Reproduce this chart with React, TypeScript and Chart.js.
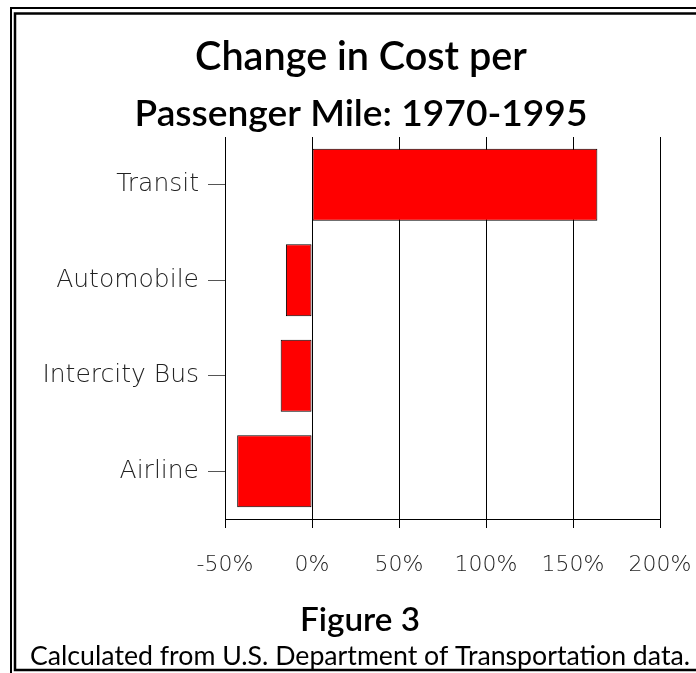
import React, { useEffect, useRef } from "react";
import { Chart, registerables } from "chart.js";

Chart.register(...registerables);

const categories = ["Transit", "Automobile", "Intercity Bus", "Airline"];
const changeValues = [164, -15, -18, -43];
const xTickValues = [-50, 0, 50, 100, 150, 200];
const titleLines = ["Change in Cost per", "Passenger Mile: 1970-1995"];
const figureLabel = "Figure 3";
const sourceNote = "Calculated from U.S. Department of Transportation data.";

const W = 696;
const H = 673;
const LABEL_FONT = "'DejaVu Sans', sans-serif";
const TITLE_FONT = "Lato, sans-serif";

function fitFont(ctx: CanvasRenderingContext2D, text: string, weight: string, family: string, targetW: number) {
  ctx.font = `${weight} 30px ${family}`;
  const w = ctx.measureText(text).width;
  const size = (30 * targetW) / w;
  return `${weight} ${size.toFixed(2)}px ${family}`;
}

const decorPlugin = {
  id: "decor",
  beforeDraw(chart: any) {
    const ctx: CanvasRenderingContext2D = chart.ctx;
    ctx.save();
    ctx.fillStyle = "#ffffff";
    ctx.fillRect(0, 0, W, H);
    ctx.strokeStyle = "#000";
    ctx.lineWidth = 2;
    ctx.beginPath();
    ctx.moveTo(W + 5, 8);
    ctx.lineTo(11, 8);
    ctx.lineTo(11, H + 5);
    ctx.stroke();
    ctx.lineWidth = 2.5;
    ctx.beginPath();
    ctx.moveTo(W + 5, 13.5);
    ctx.lineTo(15, 13.5);
    ctx.lineTo(15, 670);
    ctx.lineTo(W + 5, 670);
    ctx.stroke();
    ctx.restore();
  },
  afterDraw(chart: any) {
    const ctx: CanvasRenderingContext2D = chart.ctx;
    ctx.save();
    ctx.fillStyle = "#000";
    ctx.textAlign = "center";
    ctx.textBaseline = "middle";
    ctx.font = fitFont(ctx, titleLines[0], "600", TITLE_FONT, 332);
    ctx.fillText(titleLines[0], 361, 57);
    ctx.font = fitFont(ctx, titleLines[1], "600", TITLE_FONT, 453);
    ctx.fillText(titleLines[1], 361, 114);
    ctx.font = fitFont(ctx, figureLabel, "600", TITLE_FONT, 120);
    ctx.fillText(figureLabel, 360, 620);
    ctx.font = fitFont(ctx, sourceNote, "normal", TITLE_FONT, 660);
    ctx.fillText(sourceNote, 360, 656);
    ctx.restore();
  },
};

export default function App() {
  const ref = useRef<HTMLCanvasElement | null>(null);
  useEffect(() => {
    document.body.style.margin = "0";
    const canvas = ref.current!;
    const chart = new Chart(canvas, {
      type: "bar",
      data: {
        labels: categories,
        datasets: [
          {
            data: changeValues,
            backgroundColor: "#ff0000",
            borderColor: "#000000",
            borderWidth: 1,
            borderSkipped: false,
            categoryPercentage: 1,
            barPercentage: 0.755,
          },
        ],
      },
      options: {
        indexAxis: "y",
        animation: false,
        responsive: false,
        maintainAspectRatio: false,
        layout: { padding: { top: 137, right: 36, left: 0, bottom: 0 } },
        plugins: {
          legend: { display: false },
          tooltip: { enabled: false },
        },
        scales: {
          x: {
            type: "linear",
            min: -50,
            max: 200,
            afterBuildTicks: (scale: any) => {
              scale.ticks = xTickValues.map((v) => ({ value: v }));
            },
            afterFit: (scale: any) => {
              scale.height = H - 519;
              scale.paddingLeft = 0;
              scale.paddingRight = 0;
            },
            grid: {
              color: "#000",
              lineWidth: 1,
              tickLength: 9,
              drawOnChartArea: true,
            },
            border: { display: true, color: "#000", width: 1 },
            ticks: {
              padding: 24,
              color: "#222",
              font: { family: LABEL_FONT, size: 22, weight: "200" },
              callback: (v: any) => `${v}%`,
              maxRotation: 0,
              autoSkip: false,
            },
          },
          y: {
            type: "category",
            offset: true,
            afterFit: (scale: any) => {
              scale.width = 225;
              scale.paddingTop = 0;
              scale.paddingBottom = 0;
            },
            grid: {
              offset: false,
              drawOnChartArea: false,
              drawTicks: true,
              tickLength: 17,
              color: "#555",
            },
            border: { display: true, color: "#000", width: 1 },
            ticks: {
              padding: 9,
              color: "#222",
              font: { family: LABEL_FONT, size: 25, weight: "200" },
            },
          },
        },
      },
      plugins: [decorPlugin],
    });
    return () => chart.destroy();
  }, []);
  return (
    <div style={{ width: W, height: H, position: "relative" }}>
      <canvas ref={ref} width={W} height={H} style={{ width: W, height: H, display: "block" }} />
    </div>
  );
}
